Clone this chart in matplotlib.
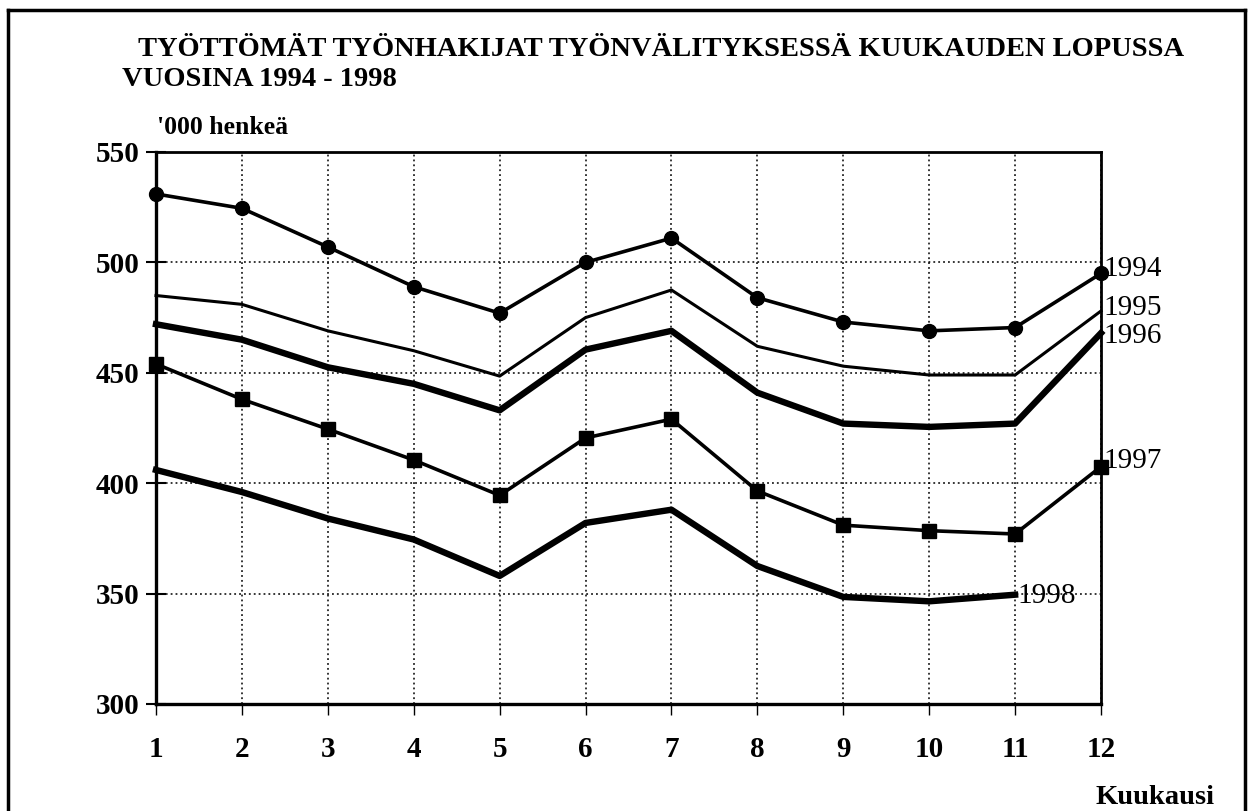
import matplotlib
matplotlib.use("Agg")
import matplotlib.pyplot as plt
from matplotlib.lines import Line2D

months = list(range(1, 13))
y1994 = [531, 524.5, 507, 489, 477, 500, 511, 484, 473, 469, 470.5, 495]
y1995 = [485, 481, 469, 460, 448.5, 475, 487.5, 462, 453, 449, 449, 478]
y1996 = [472, 465, 452.5, 445, 433, 460.5, 469, 441, 427, 425.5, 427, 468]
y1997 = [454, 438, 424.5, 410.5, 394.5, 420.5, 429, 396.5, 381, 378.5, 377, 407.5]
y1998 = [406, 396, 384, 374.5, 358, 382, 388, 362.5, 348.5, 346.5, 349.5]
yticks = [300, 350, 400, 450, 500, 550]

plt.rcParams['font.family'] = ['Liberation Serif', 'DejaVu Serif']

fig = plt.figure(figsize=(12.48, 8.11), dpi=100)
ax = fig.add_axes([156/1248, 1-704/811, (1101-156)/1248, (704-152)/811])

ax.plot(months, y1994, color='black', lw=2.6, marker='o', ms=10, clip_on=False, zorder=3)
ax.plot(months, y1995, color='black', lw=2.2, clip_on=False, zorder=3)
ax.plot(months, y1996, color='black', lw=4.6, clip_on=False, zorder=3)
ax.plot(months, y1997, color='black', lw=2.6, marker='s', ms=10, clip_on=False, zorder=3)
ax.plot(months[:len(y1998)], y1998, color='black', lw=4.6, clip_on=False, zorder=3)

ax.set_xlim(1, 12)
ax.set_ylim(300, 550)
ax.set_xticks(months)
ax.set_yticks(yticks)
ax.grid(True, color='black', linestyle=(0, (1.2, 2.0)), lw=1.1)
ax.tick_params(axis='y', direction='inout', length=14, width=1.5, pad=5)
ax.tick_params(axis='x', direction='out', length=8, width=1.0, pad=15)
for lab in ax.get_xticklabels() + ax.get_yticklabels():
    lab.set_fontsize(21)
    lab.set_fontweight('bold')
for s in ['left', 'bottom']:
    ax.spines[s].set_linewidth(2.4)
for s in ['top', 'right']:
    ax.spines[s].set_linewidth(2.0)

# year labels
def lab(x, y, t, dx=2, dy=0):
    ax.annotate(t, (x, y), xytext=(dx, dy), textcoords='offset points',
                ha='left', va='center', fontsize=21, clip_on=False)

lab(12, y1994[-1], "1994", dy=3)
lab(12, y1995[-1], "1995", dy=2)
lab(12, y1996[-1], "1996", dy=-2)
lab(12, y1997[-1], "1997", dy=4)
lab(11, y1998[-1], "1998", dy=-1)

fig.text(138/1248, 1-50/811, "TYÖTTÖMÄT TYÖNHAKIJAT TYÖNVÄLITYKSESSÄ KUUKAUDEN LOPUSSA",
         fontsize=20.5, fontweight='bold', ha='left', va='center')
fig.text(122/1248, 1-79/811, "VUOSINA 1994 - 1998",
         fontsize=20.5, fontweight='bold', ha='left', va='center')
fig.text(157/1248, 1-127/811, "'000 henkeä", fontsize=18.5, fontweight='bold',
         ha='left', va='center')
fig.text(1155/1248, 1-797/811, "Kuukausi", fontsize=20.5, fontweight='bold',
         ha='center', va='center')

# page frame
lw = 2.5
fig.add_artist(Line2D([8/1248, 8/1248], [0, 1-10/811], transform=fig.transFigure, color='black', lw=lw))
fig.add_artist(Line2D([8/1248, 1245/1248], [1-10/811, 1-10/811], transform=fig.transFigure, color='black', lw=lw))
fig.add_artist(Line2D([1245/1248, 1245/1248], [0, 1-10/811], transform=fig.transFigure, color='black', lw=lw))

fig.savefig("out.png", dpi=100)
